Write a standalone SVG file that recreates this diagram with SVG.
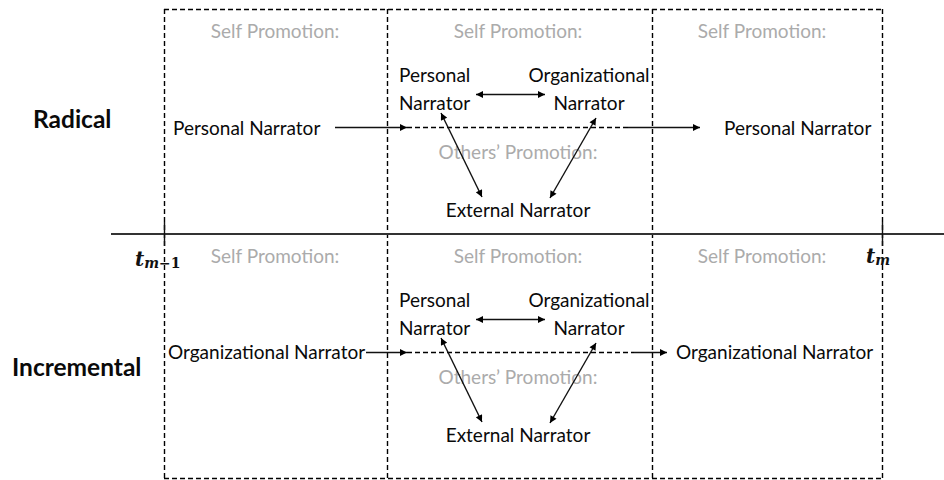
<svg xmlns="http://www.w3.org/2000/svg" width="944" height="480" viewBox="0 0 944 480">
  <defs>
    <marker id="ah" viewBox="0 0 10 10" refX="10" refY="5" markerWidth="8" markerHeight="7" markerUnits="userSpaceOnUse" orient="auto-start-reverse">
      <path d="M0,0 L10,5 L0,10 z" fill="#000"/>
    </marker>
    <style>
      .txt { font-family: "Lato", "Liberation Sans", sans-serif; font-size: 19px; fill: #0a0a0a; }
      .gray { font-family: "Lato", "Liberation Sans", sans-serif; font-size: 19px; fill: #ababab; }
      .lbl { font-family: "Lato", "Liberation Sans", sans-serif; font-size: 24.5px; font-weight: bold; fill: #0a0a0a; }
      .math { font-family: "DejaVu Serif", "Liberation Serif", serif; font-style: italic; font-weight: bold; fill: #111; }
      .dash { stroke: #000; stroke-width: 1.4; stroke-dasharray: 5 3; fill: none; }
      .solid { stroke: #111; stroke-width: 1.4; fill: none; }
      .arr { stroke: #111; stroke-width: 1.4; fill: none; marker-end: url(#ah); }
      .arr2 { stroke: #111; stroke-width: 1.4; fill: none; marker-start: url(#ah); marker-end: url(#ah); }
    </style>
  </defs>

  <!-- frame: phase columns and time axis -->
  <g id="frame">
    <line class="dash" x1="164" y1="9.5" x2="882" y2="9.5"/>
    <line class="dash" x1="164" y1="478.5" x2="882" y2="478.5"/>
    <line class="dash" x1="164.5" y1="9" x2="164.5" y2="480"/>
    <line class="dash" x1="387.5" y1="9" x2="387.5" y2="480"/>
    <line class="dash" x1="652.5" y1="9" x2="652.5" y2="480"/>
    <line class="dash" x1="882.5" y1="9" x2="882.5" y2="480"/>
    <line x1="111" y1="234" x2="944" y2="234" stroke="#333" stroke-width="2"/>
    <line class="solid" x1="164.5" y1="222" x2="164.5" y2="246"/>
    <line class="solid" x1="882.5" y1="222" x2="882.5" y2="246"/>
    <line class="dash" x1="407" y1="127.5" x2="628" y2="127.5"/>
    <line class="dash" x1="407" y1="352.5" x2="634" y2="352.5"/>
  </g>

  <!-- row and time labels -->
  <g id="labels">
    <text class="lbl" x="33" y="128">Radical</text>
    <text class="lbl" x="12" y="376">Incremental</text>
    <text class="math" x="135" y="266" font-size="20">t<tspan font-size="14" dy="2">m</tspan><tspan font-size="14" font-style="normal">−1</tspan></text>
    <text class="math" x="866" y="263" font-size="20">t<tspan font-size="14" dy="2">m</tspan></text>
  </g>

  <!-- radical row -->
  <g id="radical-before">
    <text class="gray" x="275" y="38" text-anchor="middle">Self Promotion:</text>
    <text class="txt" x="173" y="135">Personal Narrator</text>
  </g>
  <g id="radical-during">
    <text class="gray" x="518" y="38" text-anchor="middle">Self Promotion:</text>
    <text class="txt" x="399" y="82">Personal</text>
    <text class="txt" x="399" y="110">Narrator</text>
    <text class="txt" x="589" y="82" text-anchor="middle">Organizational</text>
    <text class="txt" x="589" y="110" text-anchor="middle">Narrator</text>
    <text class="gray" x="518" y="159" text-anchor="middle">Others’ Promotion:</text>
    <text class="txt" x="518" y="217" text-anchor="middle">External Narrator</text>
  </g>
  <g id="radical-after">
    <text class="gray" x="762" y="38" text-anchor="middle">Self Promotion:</text>
    <text class="txt" x="724" y="135">Personal Narrator</text>
  </g>

  <!-- incremental row -->
  <g id="incremental-before">
    <text class="gray" x="275" y="263" text-anchor="middle">Self Promotion:</text>
    <text class="txt" x="168" y="359">Organizational Narrator</text>
  </g>
  <g id="incremental-during">
    <text class="gray" x="518" y="263" text-anchor="middle">Self Promotion:</text>
    <text class="txt" x="399" y="307">Personal</text>
    <text class="txt" x="399" y="335">Narrator</text>
    <text class="txt" x="589" y="307" text-anchor="middle">Organizational</text>
    <text class="txt" x="589" y="335" text-anchor="middle">Narrator</text>
    <text class="gray" x="518" y="384" text-anchor="middle">Others’ Promotion:</text>
    <text class="txt" x="518" y="442" text-anchor="middle">External Narrator</text>
  </g>
  <g id="incremental-after">
    <text class="gray" x="762" y="263" text-anchor="middle">Self Promotion:</text>
    <text class="txt" x="676" y="359">Organizational Narrator</text>
  </g>

  <!-- connectors -->
  <g id="connectors">
    <line class="arr" x1="335" y1="127.5" x2="407" y2="127.5"/>
    <line class="arr" x1="628" y1="127.5" x2="700" y2="127.5"/>
    <line class="arr2" x1="476" y1="94.5" x2="545" y2="94.5"/>
    <line class="arr2" x1="441" y1="113" x2="482" y2="197"/>
    <line class="arr2" x1="596" y1="118" x2="550" y2="198"/>

    <line class="arr" x1="366" y1="352.5" x2="407" y2="352.5"/>
    <line class="arr" x1="634" y1="352.5" x2="667" y2="352.5"/>
    <line class="arr2" x1="476" y1="319.5" x2="545" y2="319.5"/>
    <line class="arr2" x1="441" y1="338" x2="482" y2="422"/>
    <line class="arr2" x1="596" y1="343" x2="550" y2="423"/>
  </g>
</svg>
